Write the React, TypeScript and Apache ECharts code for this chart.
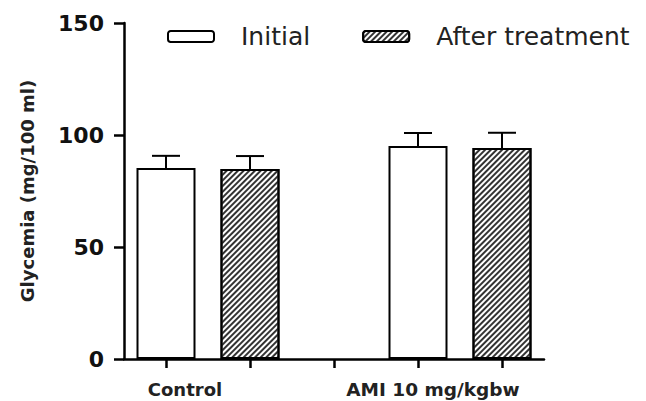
import React, { useEffect, useRef } from 'react';
import * as echarts from 'echarts';

const categories = ['Control · Initial', 'Control · After treatment', '', 'AMI · Initial', 'AMI · After treatment'];
const groupLabels = ['Control', 'AMI 10 mg/kgbw'];
const seriesNames = ['Initial', 'After treatment'];
const initialValues: (number | string)[] = [85.3, '-', '-', 95.1, '-'];
const afterValues: (number | string)[] = ['-', 84.8, '-', '-', 94.2];
const errorValues: (number | null)[] = [5.4, 5.8, null, 5.8, 6.8];
const yMin = 0;
const yMax = 150;
const yInterval = 50;

export default function App() {
  const ref = useRef<HTMLDivElement>(null);
  useEffect(() => {
    document.body.style.margin = '0';
    if (!ref.current) return;
    const chart = echarts.init(ref.current, undefined, { renderer: 'svg' });
    const means = categories.map((_, i) =>
      typeof initialValues[i] === 'number' ? (initialValues[i] as number) : (afterValues[i] as any)
    );
    const errData: number[][] = [];
    categories.forEach((_, i) => {
      const m = means[i];
      const e = errorValues[i];
      if (typeof m === 'number' && e != null) errData.push([i, m, e]);
    });
    const axisLineStyle = { color: '#000', width: 2.5 };
    const barBorder = { borderColor: '#000', borderWidth: 2 };
    chart.setOption({
      animation: false,
      backgroundColor: '#fff',
      grid: { left: 124, right: 102, top: 23, bottom: 42 },
      legend: {
        data: seriesNames,
        left: 167,
        top: 24,
        padding: 0,
        itemWidth: 46,
        itemHeight: 11,
        itemGap: 52,
        selectedMode: false,
        textStyle: {
          fontFamily: 'DejaVu Sans',
          fontSize: 25,
          color: '#222',
          padding: [0, 0, 0, 22],
        },
      },
      xAxis: {
        type: 'category',
        data: categories,
        boundaryGap: true,
        axisLine: { lineStyle: axisLineStyle },
        axisTick: { show: true, alignWithLabel: true, interval: 0, length: 9, lineStyle: axisLineStyle },
        axisLabel: { show: false },
        splitLine: { show: false },
      },
      yAxis: {
        type: 'value',
        min: yMin,
        max: yMax,
        interval: yInterval,
        name: 'Glycemia (mg/100 ml)',
        nameLocation: 'middle',
        nameGap: 88,
        nameTextStyle: { fontFamily: 'DejaVu Sans', fontWeight: 'bold', fontSize: 18, color: '#222' },
        axisLine: { show: true, lineStyle: axisLineStyle },
        axisTick: { show: true, length: 10, lineStyle: axisLineStyle },
        axisLabel: { margin: 20, fontFamily: 'DejaVu Sans', fontWeight: 'bold', fontSize: 22, color: '#111' },
        splitLine: { show: false },
      },
      series: [
        {
          name: seriesNames[0],
          type: 'bar',
          data: initialValues,
          barWidth: 59,
          barGap: '-100%',
          itemStyle: { color: '#fff', ...barBorder },
        },
        {
          name: seriesNames[1],
          type: 'bar',
          data: afterValues,
          barWidth: 59,
          barGap: '-100%',
          itemStyle: {
            color: '#fff',
            ...barBorder,
            decal: {
              symbol: 'rect',
              symbolSize: 1,
              dashArrayX: [1, 0],
              dashArrayY: [1.3, 1.7],
              rotation: -Math.PI / 4,
              color: '#333',
              backgroundColor: '#fff',
            },
          },
        },
        {
          name: 'SEM',
          type: 'custom',
          data: errData,
          z: 1,
          renderItem: (params: any, api: any) => {
            const x = api.value(0);
            const v = api.value(1);
            const e = api.value(2);
            const base = api.coord([x, v]);
            const top = api.coord([x, v + e]);
            const half = 14;
            const st = { stroke: '#000', lineWidth: 2 };
            return {
              type: 'group',
              children: [
                { type: 'line', shape: { x1: base[0], y1: base[1], x2: top[0], y2: top[1] }, style: st },
                { type: 'line', shape: { x1: top[0] - half, y1: top[1], x2: top[0] + half, y2: top[1] }, style: st },
              ],
            };
          },
        },
      ],
      graphic: [
        {
          type: 'text',
          x: 185,
          y: 389,
          style: {
            text: groupLabels[0],
            fontFamily: 'DejaVu Sans',
            fontWeight: 'bold',
            fontSize: 18,
            fill: '#222',
            textAlign: 'center',
            textVerticalAlign: 'middle',
          },
        },
        {
          type: 'text',
          x: 433,
          y: 389,
          style: {
            text: groupLabels[1],
            fontFamily: 'DejaVu Sans',
            fontWeight: 'bold',
            fontSize: 18.5,
            fill: '#222',
            textAlign: 'center',
            textVerticalAlign: 'middle',
          },
        },
      ],
    });
    return () => chart.dispose();
  }, []);
  return <div ref={ref} style={{ width: 646, height: 401 }} />;
}
